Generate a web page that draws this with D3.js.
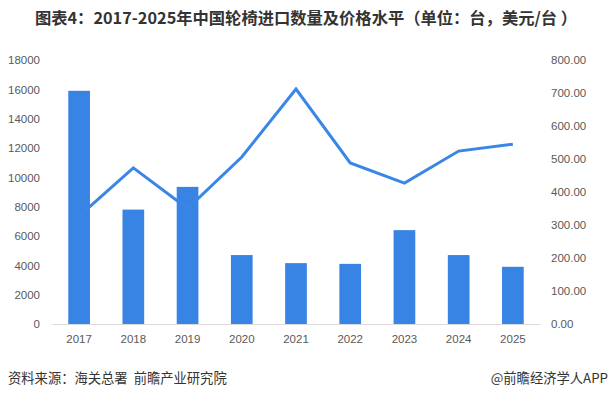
<!DOCTYPE html>
<html>
<head>
<meta charset="utf-8">
<script src="https://cdn.jsdelivr.net/npm/d3@7"></script>
<style>
  body { margin: 0; background: #fff; }
  svg { display: block; font-family: "Noto Sans CJK SC", "Noto Sans", sans-serif; }
</style>
</head>
<body>
<svg id="chart" width="610" height="398"></svg>
<script>
const years = ["2017", "2018", "2019", "2020", "2021", "2022", "2023", "2024", "2025"];
const quantity = [15900, 7800, 9350, 4700, 4150, 4100, 6400, 4700, 3900];
const price = [327, 473, 350, 506, 712, 488, 427, 524, 545];
const leftTicks = [0, 2000, 4000, 6000, 8000, 10000, 12000, 14000, 16000, 18000];
const rightTicks = [0, 100, 200, 300, 400, 500, 600, 700, 800];

const svg = d3.select("#chart");
const margin = { top: 60, right: 70, bottom: 74, left: 52 };
const width = +svg.attr("width") - margin.left - margin.right;
const height = +svg.attr("height") - margin.top - margin.bottom;

const barColor = "#3784e4";
const tickColor = "#595959";

// title
svg.append("text")
    .attr("x", 306).attr("y", 24)
    .attr("text-anchor", "middle")
    .attr("font-size", 16.3).attr("font-weight", "bold")
    .attr("fill", "#333")
    .style("white-space", "pre")
    .text("图表4：2017-2025年中国轮椅进口数量及价格水平（单位：台，美元/台 ）");

const x = d3.scaleBand().domain(years).range([0, width]).paddingInner(0.6).paddingOuter(0.3);
const xc = d3.scalePoint().domain(years).range([0, width]).padding(0.5);
const yL = d3.scaleLinear().domain([0, 18000]).range([height, 0]);
const yR = d3.scaleLinear().domain([0, 800]).range([height, 0]);

const g = svg.append("g").attr("transform", `translate(${margin.left},${margin.top})`);

// left axis
const axL = g.append("g")
    .attr("transform", "translate(-12,0)")
    .call(d3.axisLeft(yL).tickValues(leftTicks).tickSize(0).tickPadding(0).tickFormat(d3.format("d")));
axL.select(".domain").remove();
axL.selectAll("text").attr("fill", tickColor).attr("font-size", 11.5).attr("font-family", "\"Liberation Sans\", sans-serif");

// right axis
const axR = g.append("g")
    .attr("transform", `translate(${width + 11},0)`)
    .call(d3.axisRight(yR).tickValues(rightTicks).tickSize(0).tickPadding(0).tickFormat(d3.format(".2f")));
axR.select(".domain").remove();
axR.selectAll("text").attr("fill", tickColor).attr("font-size", 11.5).attr("font-family", "\"Liberation Sans\", sans-serif");

// bars
g.selectAll(".bar")
    .data(quantity)
    .enter()
    .append("rect")
    .attr("class", "bar")
    .attr("x", (d, i) => x(years[i]))
    .attr("y", d => yL(d))
    .attr("width", x.bandwidth())
    .attr("height", d => height - yL(d))
    .attr("fill", barColor);

// x axis
const axB = g.append("g")
    .attr("transform", `translate(0,${height})`)
    .call(d3.axisBottom(x).tickSize(0).tickPadding(11));
axB.select(".domain").attr("stroke", "#d9d9d9");
axB.selectAll("text").attr("fill", tickColor).attr("font-size", 11.5).attr("font-family", "\"Liberation Sans\", sans-serif");

// price line
const line = d3.line()
    .x((d, i) => xc(years[i]))
    .y(d => yR(d));
g.append("path")
    .datum(price)
    .attr("d", line)
    .attr("fill", "none")
    .attr("stroke", "#3a86e6")
    .attr("stroke-width", 3)
    .attr("stroke-linejoin", "miter");

// footer
svg.append("text")
    .attr("x", 8).attr("y", 383)
    .attr("font-size", 13.3).attr("fill", "#333")
    .style("white-space", "pre")
    .text("资料来源：海关总署  前瞻产业研究院");
svg.append("text")
    .attr("x", 608).attr("y", 383)
    .attr("text-anchor", "end")
    .attr("font-size", 13.3).attr("fill", "#333")
    .text("@前瞻经济学人APP");
</script>
</body>
</html>
